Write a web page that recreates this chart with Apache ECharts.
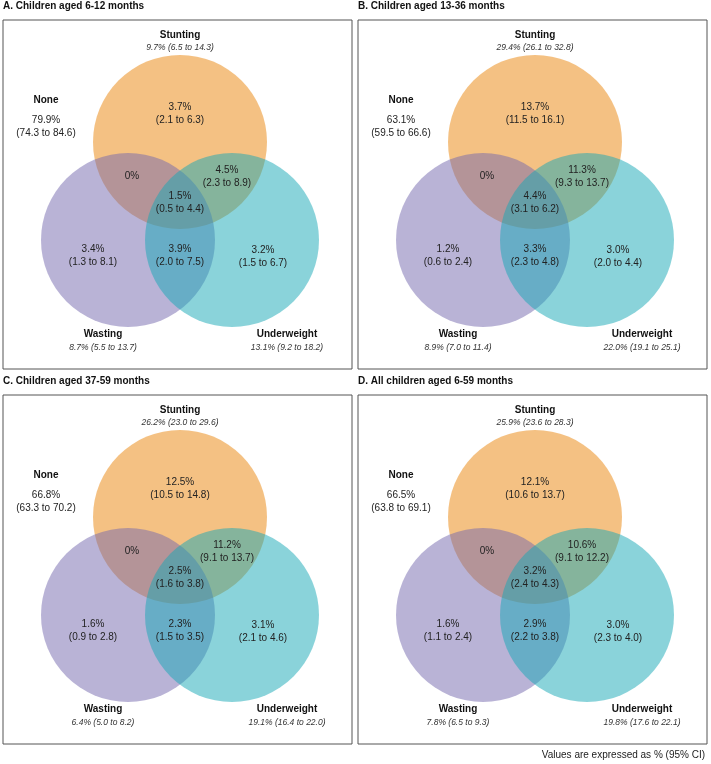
<!DOCTYPE html>
<html>
<head>
<meta charset="utf-8">
<script src="https://cdn.jsdelivr.net/npm/echarts@6/dist/echarts.min.js"></script>
<style>
  html, body { margin: 0; padding: 0; background: #fff; }
  #chart { width: 711px; height: 764px; }
</style>
</head>
<body>
<div id="chart"></div>
<script>
// panel titles
const panelTitles = [
  'A. Children aged 6-12 months',
  'B. Children aged 13-36 months',
  'C. Children aged 37-59 months',
  'D. All children aged 6-59 months'
]
const setNames = ['Stunting', 'Wasting', 'Underweight']

// totals per set, one row per panel: [pct, lo, hi]
const stuntingTotal = [[9.7, 6.5, 14.3], [29.4, 26.1, 32.8], [26.2, 23.0, 29.6], [25.9, 23.6, 28.3]]
const wastingTotal = [[8.7, 5.5, 13.7], [8.9, 7.0, 11.4], [6.4, 5.0, 8.2], [7.8, 6.5, 9.3]]
const underweightTotal = [[13.1, 9.2, 18.2], [22.0, 19.1, 25.1], [19.1, 16.4, 22.0], [19.8, 17.6, 22.1]]

// venn regions, one row per panel: [pct, lo, hi]
const noneRegion = [[79.9, 74.3, 84.6], [63.1, 59.5, 66.6], [66.8, 63.3, 70.2], [66.5, 63.8, 69.1]]
const stuntingOnly = [[3.7, 2.1, 6.3], [13.7, 11.5, 16.1], [12.5, 10.5, 14.8], [12.1, 10.6, 13.7]]
const wastingOnly = [[3.4, 1.3, 8.1], [1.2, 0.6, 2.4], [1.6, 0.9, 2.8], [1.6, 1.1, 2.4]]
const underweightOnly = [[3.2, 1.5, 6.7], [3.0, 2.0, 4.4], [3.1, 2.1, 4.6], [3.0, 2.3, 4.0]]
const stuntWaste = [[0], [0], [0], [0]]
const stuntUnder = [[4.5, 2.3, 8.9], [11.3, 9.3, 13.7], [11.2, 9.1, 13.7], [10.6, 9.1, 12.2]]
const wasteUnder = [[3.9, 2.0, 7.5], [3.3, 2.3, 4.8], [2.3, 1.5, 3.5], [2.9, 2.2, 3.8]]
const allThree = [[1.5, 0.5, 4.4], [4.4, 3.1, 6.2], [2.5, 1.6, 3.8], [3.2, 2.4, 4.3]]

const FONT = '"Liberation Sans", Arial, Helvetica, sans-serif'
const BOX = 349
const R = 87
// circle centres inside a panel box (box units = px)
const circles = [
  { c: [177, 122], color: 'rgba(233,131,7,0.5)' },
  { c: [125, 220], color: 'rgba(115,103,173,0.5)' },
  { c: [229, 220], color: 'rgba(21,167,181,0.5)' }
]
const grids = [
  { left: 3, top: 20 },
  { left: 358, top: 20 },
  { left: 3, top: 395 },
  { left: 358, top: 395 }
]

function pct(v) {
  return v === 0 ? '0%' : v.toFixed(1) + '%'
}
function region(r) {
  if (r.length < 3) return pct(r[0])
  return pct(r[0]) + '\n(' + r[1].toFixed(1) + ' to ' + r[2].toFixed(1) + ')'
}
function total(r) {
  return pct(r[0]) + ' (' + r[1].toFixed(1) + ' to ' + r[2].toFixed(1) + ')'
}

function labelsFor(i) {
  const bold = { fontSize: 10, fontWeight: 'bold', fill: '#111' }
  const ital = { fontSize: 8.5, fontStyle: 'italic', fill: '#333' }
  const reg = { fontSize: 10, fill: '#222', lineHeight: 12.7 }
  return [
    { p: [177, 94], text: region(stuntingOnly[i]), s: reg },
    { p: [129, 156], text: region(stuntWaste[i]), s: reg },
    { p: [224, 157], text: region(stuntUnder[i]), s: reg },
    { p: [177, 183], text: region(allThree[i]), s: reg },
    { p: [90, 236], text: region(wastingOnly[i]), s: reg },
    { p: [177, 236], text: region(wasteUnder[i]), s: reg },
    { p: [260, 237], text: region(underweightOnly[i]), s: reg },
    { p: [43, 80], text: 'None', s: bold },
    { p: [43, 107], text: region(noneRegion[i]), s: reg },
    { p: [177, 15], text: setNames[0], s: bold },
    { p: [177, 28], text: total(stuntingTotal[i]), s: ital },
    { p: [100, 314], text: setNames[1], s: bold },
    { p: [100, 328], text: total(wastingTotal[i]), s: ital },
    { p: [284, 314], text: setNames[2], s: bold },
    { p: [284, 328], text: total(underweightTotal[i]), s: ital }
  ]
}

const myChart = echarts.init(document.getElementById('chart'), null, { renderer: 'canvas' })

const option = {
  backgroundColor: '#fff',
  animation: false,
  textStyle: { fontFamily: FONT },
  title: [],
  grid: [],
  xAxis: [],
  yAxis: [],
  series: []
}

grids.forEach((g, i) => {
  option.title.push({
    text: panelTitles[i],
    left: g.left,
    top: g.top - 19,
    padding: 0,
    textStyle: { fontSize: 10, fontWeight: 'bold', color: '#111', fontFamily: FONT }
  })
  option.grid.push({
    left: g.left, top: g.top, width: BOX, height: BOX,
    show: true, borderColor: '#555', borderWidth: 1, backgroundColor: '#fff'
  })
  option.xAxis.push({ type: 'value', gridIndex: i, min: 0, max: BOX, show: false })
  option.yAxis.push({ type: 'value', gridIndex: i, min: 0, max: BOX, inverse: true, show: false })

  // the three sets
  option.series.push({
    type: 'custom',
    xAxisIndex: i,
    yAxisIndex: i,
    data: circles.map(c => [c.c[0], c.c[1]]),
    renderItem: function (params, api) {
      const pt = api.coord([api.value(0), api.value(1)])
      const r = api.size([R, R])[0]
      return {
        type: 'circle',
        shape: { cx: pt[0], cy: pt[1], r: r },
        style: { fill: circles[params.dataIndex].color }
      }
    }
  })

  // labels
  const items = labelsFor(i)
  option.series.push({
    type: 'custom',
    xAxisIndex: i,
    yAxisIndex: i,
    z: 5,
    data: items.map(it => it.p),
    renderItem: function (params, api) {
      const it = items[params.dataIndex]
      const pt = api.coord([api.value(0), api.value(1)])
      return {
        type: 'text',
        x: pt[0],
        y: pt[1],
        style: Object.assign({
          text: it.text,
          fontFamily: FONT,
          align: 'center',
          verticalAlign: 'middle'
        }, it.s)
      }
    }
  })
})

option.title.push({
  text: 'Values are expressed as % (95% CI)',
  right: 6,
  top: 750,
  padding: 0,
  textStyle: { fontSize: 10, fontWeight: 'normal', color: '#222', fontFamily: FONT }
})

myChart.setOption(option)
</script>
</body>
</html>
